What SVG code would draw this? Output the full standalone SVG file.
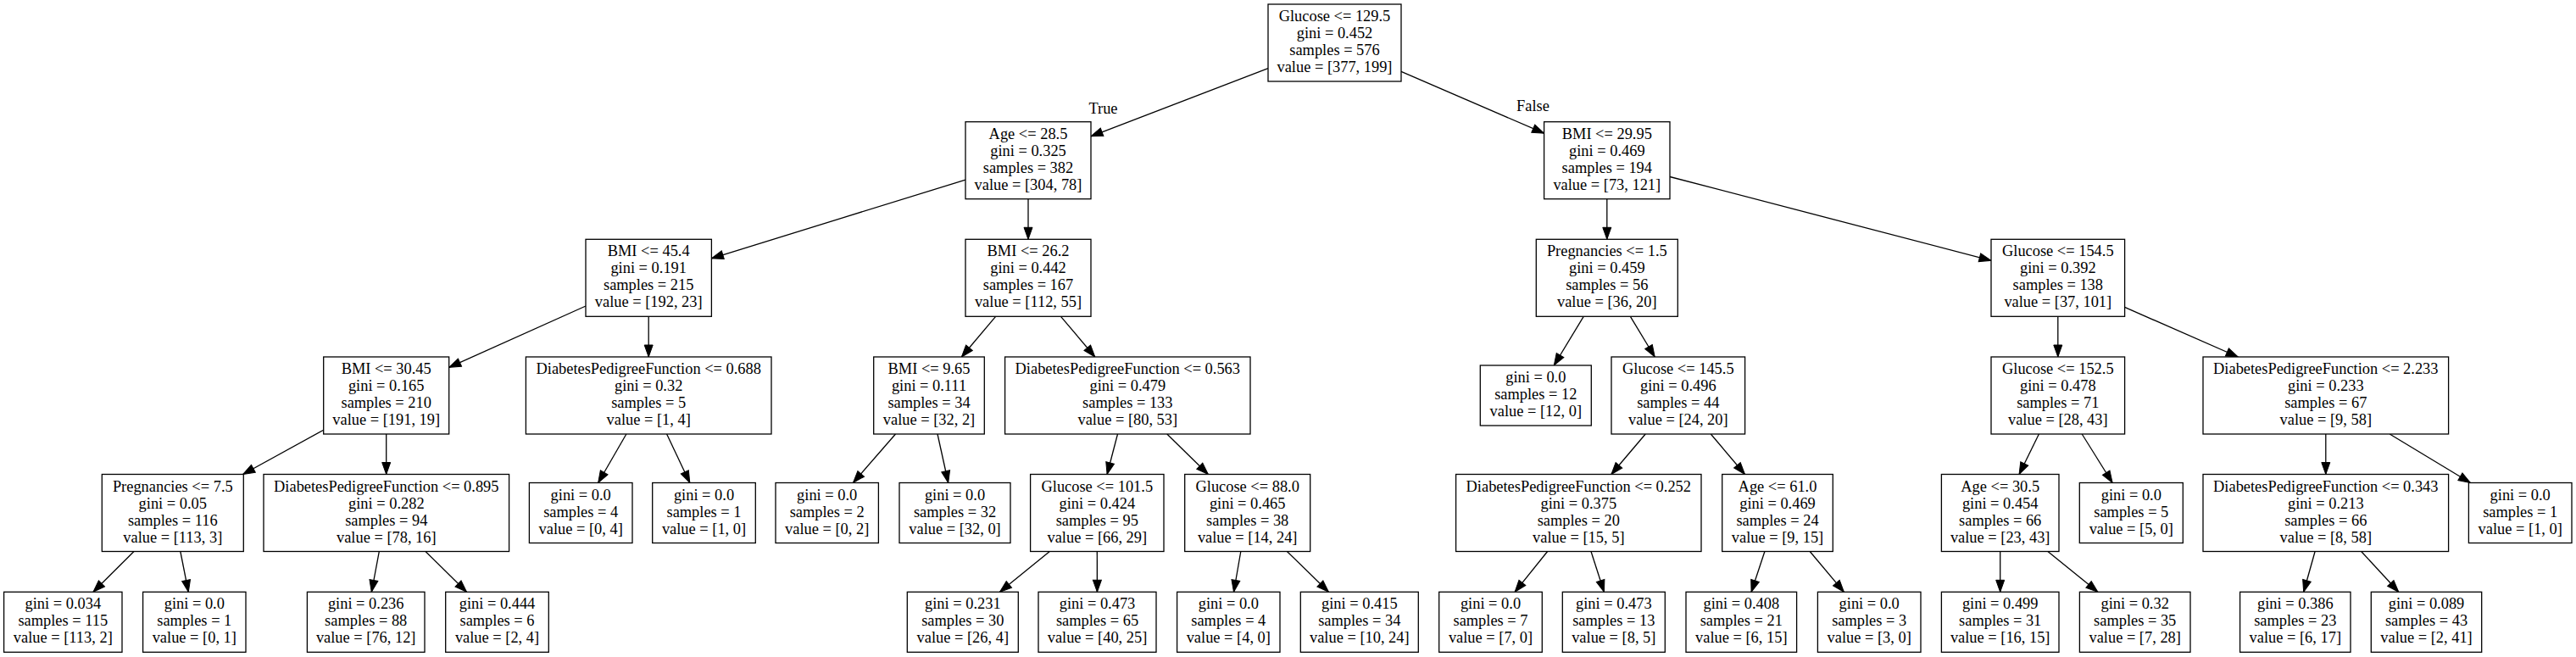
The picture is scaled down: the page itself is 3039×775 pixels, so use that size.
<svg xmlns="http://www.w3.org/2000/svg" width="3039" height="775" viewBox="0 0 3039 775">
<style>
.box{fill:#fff;stroke:#000;stroke-width:1.3}
.t{font-family:"Liberation Serif","Times New Roman",serif;font-size:18.4px;text-anchor:middle;fill:#000}
.e{stroke:#000;stroke-width:1.3;fill:none;marker-end:url(#arr)}
</style>
<defs>
<marker id="arr" markerUnits="userSpaceOnUse" markerWidth="14" markerHeight="10" refX="14" refY="5" orient="auto" overflow="visible">
<path d="M0,0 L14,5 L0,10 z" fill="#000" stroke="#000" stroke-width="1"/>
</marker>
</defs>
<rect x="0" y="0" width="3039" height="775" fill="#fff"/>
<g id="connectors">
<line class="e" x1="1496" y1="80.6" x2="1287" y2="160.8"/>
<line class="e" x1="1653" y1="84.4" x2="1821.6" y2="157.2"/>
<line class="e" x1="1139" y1="212.1" x2="839.4" y2="304.8"/>
<line class="e" x1="1213" y1="234.7" x2="1213" y2="282.3"/>
<line class="e" x1="1895.8" y1="234.7" x2="1895.8" y2="282.3"/>
<line class="e" x1="1970" y1="208.5" x2="2349" y2="307.3"/>
<line class="e" x1="691" y1="361" x2="529.7" y2="433.3"/>
<line class="e" x1="765.2" y1="373.3" x2="765.2" y2="421"/>
<line class="e" x1="1174.6" y1="373.3" x2="1134.4" y2="421"/>
<line class="e" x1="1251.5" y1="373.3" x2="1291.8" y2="421"/>
<line class="e" x1="1868.2" y1="373.3" x2="1833.3" y2="431"/>
<line class="e" x1="1923.4" y1="373.3" x2="1952.2" y2="421"/>
<line class="e" x1="2427.8" y1="373.3" x2="2427.8" y2="421"/>
<line class="e" x1="2506.6" y1="362.4" x2="2640.2" y2="421"/>
<line class="e" x1="381.7" y1="507.2" x2="286.6" y2="559.5"/>
<line class="e" x1="455.7" y1="512" x2="455.7" y2="559.5"/>
<line class="e" x1="738.9" y1="512" x2="705.7" y2="569.5"/>
<line class="e" x1="786.6" y1="512" x2="813.8" y2="569.5"/>
<line class="e" x1="1056.5" y1="512" x2="1006.5" y2="569.5"/>
<line class="e" x1="1106" y1="512" x2="1118.7" y2="569.5"/>
<line class="e" x1="1318.5" y1="512" x2="1306.1" y2="559.5"/>
<line class="e" x1="1376.8" y1="512" x2="1425.3" y2="559.5"/>
<line class="e" x1="1941.2" y1="512" x2="1900.9" y2="559.5"/>
<line class="e" x1="2018.3" y1="512" x2="2058.5" y2="559.5"/>
<line class="e" x1="2405.4" y1="512" x2="2382.1" y2="559.5"/>
<line class="e" x1="2456.2" y1="512" x2="2492.1" y2="569.5"/>
<line class="e" x1="2743.8" y1="512" x2="2743.8" y2="559.5"/>
<line class="e" x1="2819.2" y1="512" x2="2914.4" y2="569.5"/>
<line class="e" x1="158" y1="650.5" x2="110" y2="698.3"/>
<line class="e" x1="212.8" y1="650.5" x2="222.3" y2="698.3"/>
<line class="e" x1="447.3" y1="650.5" x2="438.3" y2="698.3"/>
<line class="e" x1="502" y1="650.5" x2="550.5" y2="698.3"/>
<line class="e" x1="1238.3" y1="650.5" x2="1179.5" y2="698.3"/>
<line class="e" x1="1294.3" y1="650.5" x2="1294.4" y2="698.3"/>
<line class="e" x1="1463.8" y1="650.5" x2="1455.5" y2="698.3"/>
<line class="e" x1="1518.4" y1="650.5" x2="1567.4" y2="698.3"/>
<line class="e" x1="1825.6" y1="650.5" x2="1787.1" y2="698.3"/>
<line class="e" x1="1877" y1="650.5" x2="1892.4" y2="698.3"/>
<line class="e" x1="2081.9" y1="650.5" x2="2066.1" y2="698.3"/>
<line class="e" x1="2135.2" y1="650.5" x2="2175.4" y2="698.3"/>
<line class="e" x1="2359.7" y1="650.5" x2="2359.7" y2="698.3"/>
<line class="e" x1="2415.9" y1="650.5" x2="2474.9" y2="698.3"/>
<line class="e" x1="2731.1" y1="650.5" x2="2717.7" y2="698.3"/>
<line class="e" x1="2785.7" y1="650.5" x2="2829.8" y2="698.3"/>
<text class="t" x="1301.5" y="134">True</text>
<text class="t" x="1808.5" y="131">False</text>
</g>
<g id="n0"><rect class="box" x="1496" y="5" width="157" height="91"/><text class="t"><tspan x="1574.5" y="25">Glucose &lt;= 129.5</tspan><tspan x="1574.5" y="45">gini = 0.452</tspan><tspan x="1574.5" y="65">samples = 576</tspan><tspan x="1574.5" y="85">value = [377, 199]</tspan></text></g>
<g id="n1"><rect class="box" x="1139" y="143.7" width="148" height="91"/><text class="t"><tspan x="1213" y="163.7">Age &lt;= 28.5</tspan><tspan x="1213" y="183.7">gini = 0.325</tspan><tspan x="1213" y="203.7">samples = 382</tspan><tspan x="1213" y="223.7">value = [304, 78]</tspan></text></g>
<g id="n2"><rect class="box" x="1821.6" y="143.7" width="148.4" height="91"/><text class="t"><tspan x="1895.8" y="163.7">BMI &lt;= 29.95</tspan><tspan x="1895.8" y="183.7">gini = 0.469</tspan><tspan x="1895.8" y="203.7">samples = 194</tspan><tspan x="1895.8" y="223.7">value = [73, 121]</tspan></text></g>
<g id="n3"><rect class="box" x="691" y="282.3" width="148.4" height="91"/><text class="t"><tspan x="765.2" y="302.3">BMI &lt;= 45.4</tspan><tspan x="765.2" y="322.3">gini = 0.191</tspan><tspan x="765.2" y="342.3">samples = 215</tspan><tspan x="765.2" y="362.3">value = [192, 23]</tspan></text></g>
<g id="n4"><rect class="box" x="1139" y="282.3" width="148" height="91"/><text class="t"><tspan x="1213" y="302.3">BMI &lt;= 26.2</tspan><tspan x="1213" y="322.3">gini = 0.442</tspan><tspan x="1213" y="342.3">samples = 167</tspan><tspan x="1213" y="362.3">value = [112, 55]</tspan></text></g>
<g id="n5"><rect class="box" x="1812.3" y="282.3" width="167" height="91"/><text class="t"><tspan x="1895.8" y="302.3">Pregnancies &lt;= 1.5</tspan><tspan x="1895.8" y="322.3">gini = 0.459</tspan><tspan x="1895.8" y="342.3">samples = 56</tspan><tspan x="1895.8" y="362.3">value = [36, 20]</tspan></text></g>
<g id="n6"><rect class="box" x="2349" y="282.3" width="157.6" height="91"/><text class="t"><tspan x="2427.8" y="302.3">Glucose &lt;= 154.5</tspan><tspan x="2427.8" y="322.3">gini = 0.392</tspan><tspan x="2427.8" y="342.3">samples = 138</tspan><tspan x="2427.8" y="362.3">value = [37, 101]</tspan></text></g>
<g id="n7"><rect class="box" x="381.7" y="421" width="148" height="91"/><text class="t"><tspan x="455.7" y="441">BMI &lt;= 30.45</tspan><tspan x="455.7" y="461">gini = 0.165</tspan><tspan x="455.7" y="481">samples = 210</tspan><tspan x="455.7" y="501">value = [191, 19]</tspan></text></g>
<g id="n8"><rect class="box" x="620.4" y="421" width="289.6" height="91"/><text class="t"><tspan x="765.2" y="441">DiabetesPedigreeFunction &lt;= 0.688</tspan><tspan x="765.2" y="461">gini = 0.32</tspan><tspan x="765.2" y="481">samples = 5</tspan><tspan x="765.2" y="501">value = [1, 4]</tspan></text></g>
<g id="n9"><rect class="box" x="1030.7" y="421" width="130.6" height="91"/><text class="t"><tspan x="1096" y="441">BMI &lt;= 9.65</tspan><tspan x="1096" y="461">gini = 0.111</tspan><tspan x="1096" y="481">samples = 34</tspan><tspan x="1096" y="501">value = [32, 2]</tspan></text></g>
<g id="n10"><rect class="box" x="1185.6" y="421" width="289.4" height="91"/><text class="t"><tspan x="1330.3" y="441">DiabetesPedigreeFunction &lt;= 0.563</tspan><tspan x="1330.3" y="461">gini = 0.479</tspan><tspan x="1330.3" y="481">samples = 133</tspan><tspan x="1330.3" y="501">value = [80, 53]</tspan></text></g>
<g id="n11"><rect class="box" x="1746.3" y="431" width="131" height="71"/><text class="t"><tspan x="1811.8" y="451">gini = 0.0</tspan><tspan x="1811.8" y="471">samples = 12</tspan><tspan x="1811.8" y="491">value = [12, 0]</tspan></text></g>
<g id="n12"><rect class="box" x="1901" y="421" width="157.6" height="91"/><text class="t"><tspan x="1979.8" y="441">Glucose &lt;= 145.5</tspan><tspan x="1979.8" y="461">gini = 0.496</tspan><tspan x="1979.8" y="481">samples = 44</tspan><tspan x="1979.8" y="501">value = [24, 20]</tspan></text></g>
<g id="n13"><rect class="box" x="2349" y="421" width="157.6" height="91"/><text class="t"><tspan x="2427.8" y="441">Glucose &lt;= 152.5</tspan><tspan x="2427.8" y="461">gini = 0.478</tspan><tspan x="2427.8" y="481">samples = 71</tspan><tspan x="2427.8" y="501">value = [28, 43]</tspan></text></g>
<g id="n14"><rect class="box" x="2599" y="421" width="289.6" height="91"/><text class="t"><tspan x="2743.8" y="441">DiabetesPedigreeFunction &lt;= 2.233</tspan><tspan x="2743.8" y="461">gini = 0.233</tspan><tspan x="2743.8" y="481">samples = 67</tspan><tspan x="2743.8" y="501">value = [9, 58]</tspan></text></g>
<g id="n15"><rect class="box" x="120.3" y="559.5" width="167" height="91"/><text class="t"><tspan x="203.8" y="579.5">Pregnancies &lt;= 7.5</tspan><tspan x="203.8" y="599.5">gini = 0.05</tspan><tspan x="203.8" y="619.5">samples = 116</tspan><tspan x="203.8" y="639.5">value = [113, 3]</tspan></text></g>
<g id="n16"><rect class="box" x="311" y="559.5" width="289.6" height="91"/><text class="t"><tspan x="455.8" y="579.5">DiabetesPedigreeFunction &lt;= 0.895</tspan><tspan x="455.8" y="599.5">gini = 0.282</tspan><tspan x="455.8" y="619.5">samples = 94</tspan><tspan x="455.8" y="639.5">value = [78, 16]</tspan></text></g>
<g id="n17"><rect class="box" x="624.4" y="569.5" width="121.6" height="71"/><text class="t"><tspan x="685.2" y="589.5">gini = 0.0</tspan><tspan x="685.2" y="609.5">samples = 4</tspan><tspan x="685.2" y="629.5">value = [0, 4]</tspan></text></g>
<g id="n18"><rect class="box" x="769.7" y="569.5" width="121.6" height="71"/><text class="t"><tspan x="830.5" y="589.5">gini = 0.0</tspan><tspan x="830.5" y="609.5">samples = 1</tspan><tspan x="830.5" y="629.5">value = [1, 0]</tspan></text></g>
<g id="n19"><rect class="box" x="915" y="569.5" width="121.4" height="71"/><text class="t"><tspan x="975.7" y="589.5">gini = 0.0</tspan><tspan x="975.7" y="609.5">samples = 2</tspan><tspan x="975.7" y="629.5">value = [0, 2]</tspan></text></g>
<g id="n20"><rect class="box" x="1061" y="569.5" width="131" height="71"/><text class="t"><tspan x="1126.5" y="589.5">gini = 0.0</tspan><tspan x="1126.5" y="609.5">samples = 32</tspan><tspan x="1126.5" y="629.5">value = [32, 0]</tspan></text></g>
<g id="n21"><rect class="box" x="1215.6" y="559.5" width="157.4" height="91"/><text class="t"><tspan x="1294.3" y="579.5">Glucose &lt;= 101.5</tspan><tspan x="1294.3" y="599.5">gini = 0.424</tspan><tspan x="1294.3" y="619.5">samples = 95</tspan><tspan x="1294.3" y="639.5">value = [66, 29]</tspan></text></g>
<g id="n22"><rect class="box" x="1397.7" y="559.5" width="148" height="91"/><text class="t"><tspan x="1471.7" y="579.5">Glucose &lt;= 88.0</tspan><tspan x="1471.7" y="599.5">gini = 0.465</tspan><tspan x="1471.7" y="619.5">samples = 38</tspan><tspan x="1471.7" y="639.5">value = [14, 24]</tspan></text></g>
<g id="n23"><rect class="box" x="1717.6" y="559.5" width="289.4" height="91"/><text class="t"><tspan x="1862.3" y="579.5">DiabetesPedigreeFunction &lt;= 0.252</tspan><tspan x="1862.3" y="599.5">gini = 0.375</tspan><tspan x="1862.3" y="619.5">samples = 20</tspan><tspan x="1862.3" y="639.5">value = [15, 5]</tspan></text></g>
<g id="n24"><rect class="box" x="2031.7" y="559.5" width="130.6" height="91"/><text class="t"><tspan x="2097" y="579.5">Age &lt;= 61.0</tspan><tspan x="2097" y="599.5">gini = 0.469</tspan><tspan x="2097" y="619.5">samples = 24</tspan><tspan x="2097" y="639.5">value = [9, 15]</tspan></text></g>
<g id="n25"><rect class="box" x="2290.4" y="559.5" width="138.6" height="91"/><text class="t"><tspan x="2359.7" y="579.5">Age &lt;= 30.5</tspan><tspan x="2359.7" y="599.5">gini = 0.454</tspan><tspan x="2359.7" y="619.5">samples = 66</tspan><tspan x="2359.7" y="639.5">value = [23, 43]</tspan></text></g>
<g id="n26"><rect class="box" x="2453.3" y="569.5" width="122" height="71"/><text class="t"><tspan x="2514.3" y="589.5">gini = 0.0</tspan><tspan x="2514.3" y="609.5">samples = 5</tspan><tspan x="2514.3" y="629.5">value = [5, 0]</tspan></text></g>
<g id="n27"><rect class="box" x="2599" y="559.5" width="289.6" height="91"/><text class="t"><tspan x="2743.8" y="579.5">DiabetesPedigreeFunction &lt;= 0.343</tspan><tspan x="2743.8" y="599.5">gini = 0.213</tspan><tspan x="2743.8" y="619.5">samples = 66</tspan><tspan x="2743.8" y="639.5">value = [8, 58]</tspan></text></g>
<g id="n28"><rect class="box" x="2912.4" y="569.5" width="121.6" height="71"/><text class="t"><tspan x="2973.2" y="589.5">gini = 0.0</tspan><tspan x="2973.2" y="609.5">samples = 1</tspan><tspan x="2973.2" y="629.5">value = [1, 0]</tspan></text></g>
<g id="n29"><rect class="box" x="4.6" y="698.3" width="139.4" height="71"/><text class="t"><tspan x="74.3" y="718.3">gini = 0.034</tspan><tspan x="74.3" y="738.3">samples = 115</tspan><tspan x="74.3" y="758.3">value = [113, 2]</tspan></text></g>
<g id="n30"><rect class="box" x="168.6" y="698.3" width="121.4" height="71"/><text class="t"><tspan x="229.3" y="718.3">gini = 0.0</tspan><tspan x="229.3" y="738.3">samples = 1</tspan><tspan x="229.3" y="758.3">value = [0, 1]</tspan></text></g>
<g id="n31"><rect class="box" x="362.4" y="698.3" width="138.6" height="71"/><text class="t"><tspan x="431.7" y="718.3">gini = 0.236</tspan><tspan x="431.7" y="738.3">samples = 88</tspan><tspan x="431.7" y="758.3">value = [76, 12]</tspan></text></g>
<g id="n32"><rect class="box" x="525.7" y="698.3" width="121.6" height="71"/><text class="t"><tspan x="586.5" y="718.3">gini = 0.444</tspan><tspan x="586.5" y="738.3">samples = 6</tspan><tspan x="586.5" y="758.3">value = [2, 4]</tspan></text></g>
<g id="n33"><rect class="box" x="1070.3" y="698.3" width="131" height="71"/><text class="t"><tspan x="1135.8" y="718.3">gini = 0.231</tspan><tspan x="1135.8" y="738.3">samples = 30</tspan><tspan x="1135.8" y="758.3">value = [26, 4]</tspan></text></g>
<g id="n34"><rect class="box" x="1225" y="698.3" width="139" height="71"/><text class="t"><tspan x="1294.5" y="718.3">gini = 0.473</tspan><tspan x="1294.5" y="738.3">samples = 65</tspan><tspan x="1294.5" y="758.3">value = [40, 25]</tspan></text></g>
<g id="n35"><rect class="box" x="1388.6" y="698.3" width="121.4" height="71"/><text class="t"><tspan x="1449.3" y="718.3">gini = 0.0</tspan><tspan x="1449.3" y="738.3">samples = 4</tspan><tspan x="1449.3" y="758.3">value = [4, 0]</tspan></text></g>
<g id="n36"><rect class="box" x="1534.3" y="698.3" width="139" height="71"/><text class="t"><tspan x="1603.8" y="718.3">gini = 0.415</tspan><tspan x="1603.8" y="738.3">samples = 34</tspan><tspan x="1603.8" y="758.3">value = [10, 24]</tspan></text></g>
<g id="n37"><rect class="box" x="1697.7" y="698.3" width="121.6" height="71"/><text class="t"><tspan x="1758.5" y="718.3">gini = 0.0</tspan><tspan x="1758.5" y="738.3">samples = 7</tspan><tspan x="1758.5" y="758.3">value = [7, 0]</tspan></text></g>
<g id="n38"><rect class="box" x="1843.3" y="698.3" width="121" height="71"/><text class="t"><tspan x="1903.8" y="718.3">gini = 0.473</tspan><tspan x="1903.8" y="738.3">samples = 13</tspan><tspan x="1903.8" y="758.3">value = [8, 5]</tspan></text></g>
<g id="n39"><rect class="box" x="1989" y="698.3" width="130.6" height="71"/><text class="t"><tspan x="2054.3" y="718.3">gini = 0.408</tspan><tspan x="2054.3" y="738.3">samples = 21</tspan><tspan x="2054.3" y="758.3">value = [6, 15]</tspan></text></g>
<g id="n40"><rect class="box" x="2144.4" y="698.3" width="121.6" height="71"/><text class="t"><tspan x="2205.2" y="718.3">gini = 0.0</tspan><tspan x="2205.2" y="738.3">samples = 3</tspan><tspan x="2205.2" y="758.3">value = [3, 0]</tspan></text></g>
<g id="n41"><rect class="box" x="2290.4" y="698.3" width="138.6" height="71"/><text class="t"><tspan x="2359.7" y="718.3">gini = 0.499</tspan><tspan x="2359.7" y="738.3">samples = 31</tspan><tspan x="2359.7" y="758.3">value = [16, 15]</tspan></text></g>
<g id="n42"><rect class="box" x="2453.4" y="698.3" width="130.6" height="71"/><text class="t"><tspan x="2518.7" y="718.3">gini = 0.32</tspan><tspan x="2518.7" y="738.3">samples = 35</tspan><tspan x="2518.7" y="758.3">value = [7, 28]</tspan></text></g>
<g id="n43"><rect class="box" x="2642.6" y="698.3" width="130.4" height="71"/><text class="t"><tspan x="2707.8" y="718.3">gini = 0.386</tspan><tspan x="2707.8" y="738.3">samples = 23</tspan><tspan x="2707.8" y="758.3">value = [6, 17]</tspan></text></g>
<g id="n44"><rect class="box" x="2797.3" y="698.3" width="130.4" height="71"/><text class="t"><tspan x="2862.5" y="718.3">gini = 0.089</tspan><tspan x="2862.5" y="738.3">samples = 43</tspan><tspan x="2862.5" y="758.3">value = [2, 41]</tspan></text></g>
</svg>
